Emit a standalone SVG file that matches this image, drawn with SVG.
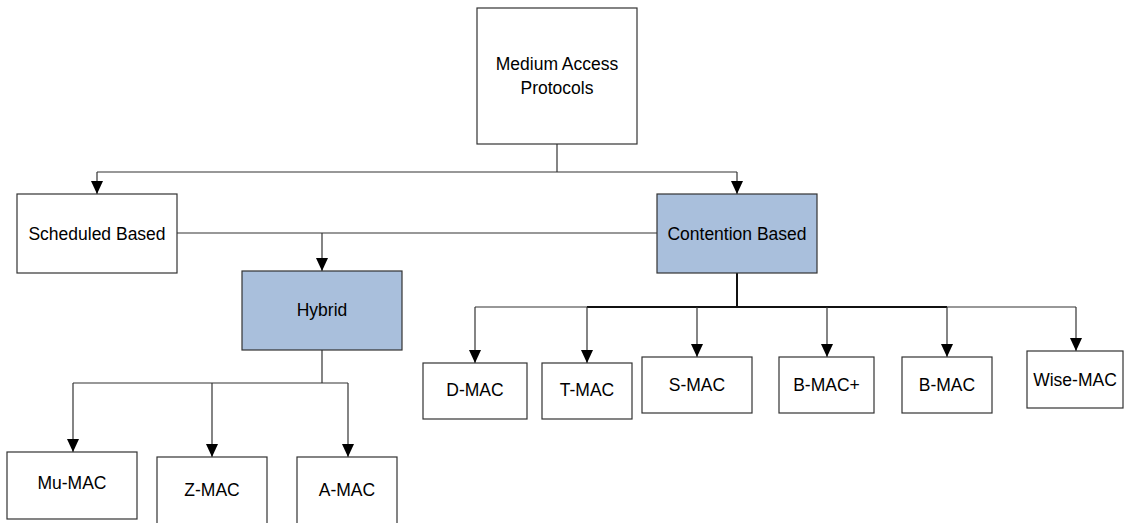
<svg xmlns="http://www.w3.org/2000/svg" width="1124" height="523" viewBox="0 0 1124 523">
<style>
.box{fill:#fff;stroke:#333;stroke-width:1.2}
.blue{fill:#a9bfdc;stroke:#333;stroke-width:1.2}
.t{font-family:"Liberation Sans",Arial,sans-serif;font-size:17.5px;fill:#000;text-anchor:middle}
.c{fill:none;stroke:#333;stroke-width:1.2}
.ct{fill:none;stroke:#111;stroke-width:2}
</style>
<defs>
<marker id="ah" markerWidth="13" markerHeight="12" refX="13" refY="6" orient="auto" markerUnits="userSpaceOnUse">
<path d="M0,0 L13,6 L0,12 Z" fill="#000"/>
</marker>
</defs>
<rect width="1124" height="523" fill="#fff"/>
<g id="connectors">
<path class="c" d="M557,144 V172"/>
<path class="c" d="M97,172 H737"/>
<path class="c" d="M97,172 V194" marker-end="url(#ah)"/>
<path class="c" d="M737,172 V194" marker-end="url(#ah)"/>
<path class="c" d="M177,233 H657"/>
<path class="c" d="M322,233 V271" marker-end="url(#ah)"/>
<path class="ct" d="M737,273 V307"/>
<path class="c" d="M475,307 H1076"/>
<path class="ct" d="M587,307 H947"/>
<path class="c" d="M475,307 V363" marker-end="url(#ah)"/>
<path class="c" d="M587,307 V363" marker-end="url(#ah)"/>
<path class="c" d="M697,307 V357" marker-end="url(#ah)"/>
<path class="c" d="M827,307 V357" marker-end="url(#ah)"/>
<path class="c" d="M947,307 V357" marker-end="url(#ah)"/>
<path class="c" d="M1076,307 V351" marker-end="url(#ah)"/>
<path class="c" d="M322,350 V383"/>
<path class="c" d="M73,383 H348"/>
<path class="c" d="M73,383 V452" marker-end="url(#ah)"/>
<path class="c" d="M212,383 V457" marker-end="url(#ah)"/>
<path class="c" d="M348,383 V457" marker-end="url(#ah)"/>
</g>
<g id="n-root"><rect class="box" x="477" y="8" width="160" height="136"/><text class="t" x="557" y="70">Medium Access</text><text class="t" x="557" y="94">Protocols</text></g>
<g id="n-scheduled"><rect class="box" x="17" y="194" width="160" height="79"/><text class="t" x="97" y="240">Scheduled Based</text></g>
<g id="n-contention"><rect class="blue" x="657" y="194" width="160" height="79"/><text class="t" x="737" y="240">Contention Based</text></g>
<g id="n-hybrid"><rect class="blue" x="242" y="271" width="160" height="79"/><text class="t" x="322" y="316">Hybrid</text></g>
<g id="n-dmac"><rect class="box" x="423" y="363" width="104" height="56"/><text class="t" x="475" y="396">D-MAC</text></g>
<g id="n-tmac"><rect class="box" x="542" y="363" width="90" height="56"/><text class="t" x="587" y="396">T-MAC</text></g>
<g id="n-smac"><rect class="box" x="642" y="357" width="110" height="56"/><text class="t" x="697" y="391">S-MAC</text></g>
<g id="n-bmacplus"><rect class="box" x="779" y="357" width="95" height="56"/><text class="t" x="826.5" y="391">B-MAC+</text></g>
<g id="n-bmac"><rect class="box" x="902" y="357" width="90" height="56"/><text class="t" x="947" y="391">B-MAC</text></g>
<g id="n-wisemac"><rect class="box" x="1027" y="351" width="96" height="57"/><text class="t" x="1075" y="386">Wise-MAC</text></g>
<g id="n-mumac"><rect class="box" x="7" y="452" width="130" height="67"/><text class="t" x="72" y="489">Mu-MAC</text></g>
<g id="n-zmac"><rect class="box" x="157" y="457" width="110" height="75"/><text class="t" x="212" y="496">Z-MAC</text></g>
<g id="n-amac"><rect class="box" x="297" y="457" width="100" height="75"/><text class="t" x="347" y="496">A-MAC</text></g>
</svg>
